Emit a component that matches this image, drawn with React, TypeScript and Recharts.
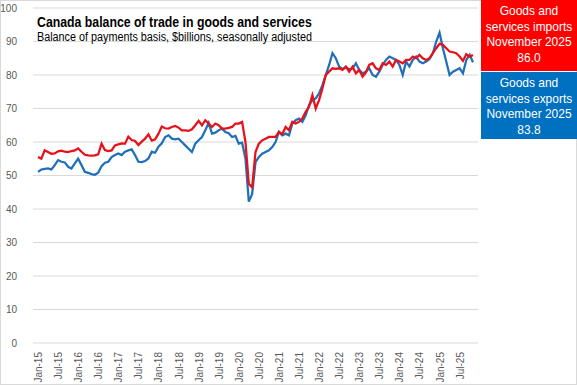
import { LineChart, Line, XAxis, YAxis, CartesianGrid } from 'recharts';

// Jan-15 .. Nov-25, monthly
const MONTHS = ['Jan', 'Feb', 'Mar', 'Apr', 'May', 'Jun', 'Jul', 'Aug', 'Sep', 'Oct', 'Nov', 'Dec'];
const YEARS = ['15', '16', '17', '18', '19', '20', '21', '22', '23', '24', '25'];
const categories: string[] = [];
YEARS.forEach((y) => MONTHS.forEach((m) => categories.push(`${m}-${y}`)));
categories.splice(131);

const imports = [
    55.5, 55.0, 57.5, 57.0, 56.5, 56.6, 57.2, 57.4, 57.1, 57.0, 57.3, 57.5,
    58.1, 57.1, 56.2, 56.0, 55.9, 56.0, 56.3, 59.5, 57.6, 57.3, 57.5, 59.0,
    59.3, 59.6, 59.5, 61.6, 60.6, 60.3, 59.1, 60.1, 61.0, 62.3, 60.4, 60.8,
    62.5, 64.6, 64.1, 64.0, 64.5, 64.8, 64.3, 63.5, 63.5, 63.3, 63.8, 65.0,
    66.3, 65.0, 66.5, 65.5, 64.5, 65.5, 65.0, 64.0, 64.0, 64.2, 64.5, 65.5,
    65.5, 66.0, 60.0, 47.5, 46.5, 57.0, 59.5, 60.5, 61.0, 61.5, 61.5, 61.5,
    63.0, 62.3, 64.5, 63.5, 66.0, 65.5, 66.0, 67.0, 69.0, 70.5, 74.0, 70.0,
    72.5, 76.0, 80.0, 81.0, 82.0, 81.8, 82.0, 81.5, 82.5, 81.0, 82.5, 80.5,
    81.5, 79.5, 80.8, 83.0, 83.5, 82.0, 81.5, 83.5, 83.0, 84.0, 82.5, 84.5,
    84.0, 83.5, 84.5, 84.5, 85.5, 85.0, 86.0, 85.0, 84.5, 85.0, 86.5, 88.0,
    89.3, 89.0, 88.0, 87.0, 86.8, 86.5, 85.5, 84.2, 86.2, 85.5, 86.0,
];

const exports = [
    51.1, 51.8, 52.0, 52.1, 51.8, 53.1, 54.6, 54.1, 53.9, 52.6, 52.1, 53.6,
    55.0, 53.1, 51.1, 50.8, 50.4, 50.2, 50.8, 52.8, 53.8, 54.1, 55.5, 56.1,
    56.6, 56.1, 57.1, 57.5, 57.8, 56.1, 54.1, 54.0, 54.3, 55.1, 57.1, 56.8,
    58.6, 59.6, 61.5, 62.0, 61.0, 60.8, 61.0, 60.0, 59.0, 58.0, 57.0, 59.5,
    60.5, 61.5, 63.5, 65.7, 62.5, 62.8, 63.5, 64.0, 63.0, 62.6, 61.5, 61.8,
    59.5, 59.8, 55.0, 42.2, 44.5, 54.0, 55.5, 56.5, 57.0, 57.5, 58.5, 60.0,
    63.0, 62.0, 62.5, 62.0, 65.5, 66.5, 67.0, 66.0, 68.0, 71.0, 72.5, 73.0,
    74.5, 77.0, 80.0, 83.0, 86.5, 85.0, 82.5, 81.8, 82.3, 81.7, 82.0, 83.5,
    81.5, 80.5, 81.0, 82.0, 80.0, 79.5, 81.0, 83.0, 84.5, 85.5, 85.0, 84.5,
    83.0, 80.0, 84.0, 82.5, 84.5, 85.5, 84.0, 83.5, 84.0, 84.8, 86.5, 90.0,
    92.6, 88.0, 84.0, 80.0, 81.0, 81.5, 82.0, 80.5, 84.5, 86.0, 83.8,
];

const yTicks = [0, 10, 20, 30, 40, 50, 60, 70, 80, 90, 100];

const data = categories.map((month, i) => ({
    month,
    imports: imports[i],
    exports: exports[i],
}));

const FONT = '"Liberation Sans", Arial, sans-serif';

const XTick = ({ x, y, payload }: any) => (
    <text
        x={x}
        y={y}
        transform={`rotate(-90 ${x} ${y})`}
        textAnchor="end"
        dx={-1}
        dy={4}
        fontSize={10}
        fontFamily={FONT}
        fill="#595959"
    >
        {payload.value}
    </text>
);

// one line of condensed white text inside the info boxes
const BoxLine = ({ children }: { children: React.ReactNode }) => (
    <div style={{ height: 15.5, whiteSpace: 'nowrap', transform: 'scaleX(0.92)' }}>{children}</div>
);

const boxStyle = (bg: string, top: number, height: number): React.CSSProperties => ({
    position: 'absolute',
    left: 480,
    top,
    width: 96,
    height,
    background: bg,
    color: '#fff',
    fontFamily: FONT,
    fontSize: 13,
    lineHeight: '15.5px',
    textAlign: 'center',
    boxSizing: 'border-box',
    paddingTop: 3,
});

export default function App() {
    return (
        <div
            style={{
                position: 'fixed',
                left: 0,
                top: 0,
                width: 577,
                height: 385,
                background: '#fff',
                border: '1px solid #d9d9d9',
                boxSizing: 'border-box',
            }}
        >
            <div style={{ position: 'absolute', left: -1, top: -1 }}>
                <LineChart
                    width={577}
                    height={385}
                    data={data}
                    margin={{ top: 8, right: 99, left: 0, bottom: 0 }}
                >
                    <CartesianGrid vertical={false} stroke="#d9d9d9" />
                    <XAxis
                        dataKey="month"
                        interval={5}
                        height={42}
                        padding={{ left: 5, right: 5 }}
                        axisLine={false}
                        tickLine={false}
                        tick={<XTick />}
                    />
                    <YAxis
                        domain={[0, 100]}
                        ticks={yTicks}
                        width={33}
                        axisLine={false}
                        tickLine={false}
                        tickMargin={10}
                        tick={{ fontSize: 10, fill: '#595959', fontFamily: FONT }}
                    />
                    <Line
                        type="linear"
                        dataKey="exports"
                        stroke="#1f70b8"
                        strokeWidth={2.25}
                        dot={false}
                        isAnimationActive={false}
                    />
                    <Line
                        type="linear"
                        dataKey="imports"
                        stroke="#e8101a"
                        strokeWidth={2.25}
                        dot={false}
                        isAnimationActive={false}
                    />
                </LineChart>
            </div>

            <div
                style={{
                    position: 'absolute',
                    left: 36,
                    top: 12,
                    fontFamily: FONT,
                    color: '#000',
                    whiteSpace: 'nowrap',
                    transformOrigin: 'left top',
                }}
            >
                <div style={{ fontSize: 15, fontWeight: 'bold', lineHeight: '18px', transform: 'scaleX(0.82)', transformOrigin: 'left' }}>
                    Canada balance of trade in goods and services
                </div>
                <div style={{ fontSize: 12, lineHeight: '13px', transform: 'scaleX(0.9)', transformOrigin: 'left' }}>
                    Balance of payments basis, $billions, seasonally adjusted
                </div>
            </div>

            <div style={boxStyle('#ff0000', -1, 71)}>
                <BoxLine>Goods and</BoxLine>
                <BoxLine>services imports</BoxLine>
                <BoxLine>November 2025</BoxLine>
                <BoxLine>86.0</BoxLine>
            </div>
            <div style={boxStyle('#0070c0', 71, 67)}>
                <BoxLine>Goods and</BoxLine>
                <BoxLine>services exports</BoxLine>
                <BoxLine>November 2025</BoxLine>
                <BoxLine>83.8</BoxLine>
            </div>
        </div>
    );
}
